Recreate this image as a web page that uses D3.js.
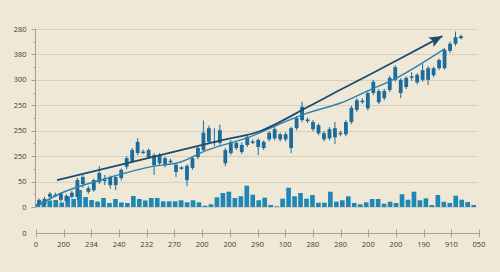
<!DOCTYPE html>
<html>
<head>
<meta charset="utf-8">
<script src="https://cdn.jsdelivr.net/npm/d3@7"></script>
<style>
  html, body { margin: 0; padding: 0; background: #f0e8d6; }
  svg { display: block; font-family: "Open Sans", "DejaVu Sans", sans-serif; }
</style>
</head>
<body>
<svg id="chart"></svg>
<script>
(function (d3) {
  'use strict'
  // data [[[1
  // y axis labels, bottom to top (they are odd but that is what the picture says)
  const yLabels = ['0', '50', '250', '250', '250', '300', '380', '280']
  const xLabels = ['0', '200', '234', '240', '232', '270', '200', '200', '290',
    '100', '280', '280', '200', '200', '190', '910', '050']

  // candles
  const opens = [4, 5, 20, 23, 26, 12, 20, 20, 45, 37, 33, 49, 52, 59, 43, 57, 79, 90, 106, 107,
    112, 102, 86, 96, 89, 83, 76, 81, 77, 98, 112, 128, 127, 126, 112, 106, 116, 122, 122, 127,
    132, 116, 133, 135, 143, 133, 116, 155, 171, 170, 167, 161, 145, 135, 137, 144, 143, 167, 191, 207,
    194, 224, 228, 214, 230, 250, 250, 236, 255, 245, 250, 273, 259, 273, 273, 307, 321, 332]
  const closes = [14, 16, 26, 24, 14, 22, 28, 53, 59, 30, 53, 67, 54, 43, 59, 73, 96, 112, 128, 109,
    98, 82, 102, 82, 91, 69, 78, 53, 96, 116, 146, 155, 129, 151, 86, 128, 126, 108, 138, 129,
    118, 128, 146, 153, 133, 143, 155, 175, 197, 172, 153, 145, 133, 153, 155, 146, 167, 195, 210, 209,
    224, 246, 206, 228, 254, 275, 224, 254, 257, 260, 269, 250, 273, 289, 309, 321, 334, 336]
  const highs = [17, 20, 30, 28, 29, 25, 32, 57, 63, 41, 56, 80, 63, 62, 62, 76, 100, 116, 135, 113,
    115, 106, 106, 99, 95, 86, 80, 84, 99, 119, 170, 160, 155, 162, 116, 132, 129, 127, 142, 133,
    135, 131, 149, 157, 146, 147, 158, 179, 207, 176, 171, 164, 149, 157, 167, 150, 171, 199, 214, 214,
    228, 250, 232, 232, 258, 279, 253, 257, 265, 263, 282, 277, 276, 292, 312, 325, 345, 339]
  const lows = [2, 3, 14, 20, 10, 8, 17, 14, 38, 26, 30, 45, 43, 36, 33, 52, 74, 86, 102, 104,
    95, 63, 82, 78, 86, 59, 73, 41, 73, 94, 108, 124, 120, 122, 80, 102, 112, 104, 118, 124,
    102, 112, 129, 131, 129, 129, 106, 151, 167, 165, 149, 141, 129, 131, 124, 139, 139, 163, 187, 203,
    190, 220, 202, 210, 226, 246, 214, 232, 248, 241, 246, 240, 255, 269, 270, 303, 317, 330]

  // volume bars
  const volumes = [30, 60, 65, 70, 45, 105, 80, 170, 100, 70, 55, 90, 40, 80, 45, 40, 110, 80, 65, 90, 90,
    57, 57, 57, 67, 47, 67, 47, 13, 27, 97, 140, 153, 90, 107, 213, 123, 67, 93, 20, 7, 83, 193, 107, 140, 83, 120, 43, 43, 153, 53,
    67, 107, 40, 27, 47, 80, 80, 33, 53, 40, 127, 73, 153, 67, 87, 20, 120, 53, 40, 113, 73, 50, 20]

  // trend lines: [candle index, value]
  const trendUpper = [[3.3, 53], [22.1, 102], [33.6, 132], [40.3, 149], [49.1, 197], [54.9, 230], [60.3, 260], [73.6, 336]]
  const trendLower = [[0, 4], [4.4, 29], [11.2, 53], [20.3, 79], [25.7, 88], [30.7, 112], [38.5, 138],
    [43.9, 163], [49.1, 185], [54.9, 204], [60.3, 230], [65.3, 254], [74, 311]]

  // setup [[[1
  const W = 500
  const H = 272
  const COLORS = {
    bg: '#f0e8d6',
    grid: '#d9cfba',
    axis: '#aaa08f',
    text: '#3b3a36',
    candle: '#1b6c9b',
    volume: '#1f87b6',
    upper: '#1c4b6e',
    lower: '#2b82ad'
  }

  const svg = d3.select('#chart').attr('width', W).attr('height', H)
  svg.append('rect').attr('width', W).attr('height', H).attr('fill', COLORS.bg)

  const y = d3.scaleLinear().domain([0, 350]).range([207, 29])
  const xi = d3.scaleLinear().domain([0, opens.length - 1]).range([39, 461])
  const xv = d3.scaleBand().domain(d3.range(volumes.length)).range([35.5, 476]).paddingInner(0.22)
  const yv = d3.scaleLinear().domain([0, 300]).range([207, 177])
  const xAxisScale = d3.scaleLinear().domain([0, xLabels.length - 1]).range([36, 479])

  // grid + y axis [[[1
  const yTicks = d3.range(0, 351, 50)
  svg.append('g')
    .selectAll('line')
    .data(yTicks)
    .enter()
    .append('line')
    .attr('x1', 35).attr('x2', 478)
    .attr('y1', d => Math.round(y(d)) + 0.5).attr('y2', d => Math.round(y(d)) + 0.5)
    .attr('stroke', COLORS.grid)
    .attr('stroke-width', 1)

  const yAxis = svg.append('g').attr('transform', 'translate(35.5,0)')
  yAxis.append('line')
    .attr('y1', y(350)).attr('y2', y(0))
    .attr('stroke', COLORS.axis)
  // major ticks
  yAxis.selectAll('line.major')
    .data(yTicks)
    .enter()
    .append('line')
    .attr('class', 'major')
    .attr('x1', -4).attr('x2', 0)
    .attr('y1', d => Math.round(y(d)) + 0.5).attr('y2', d => Math.round(y(d)) + 0.5)
    .attr('stroke', COLORS.axis)
  // minor ticks
  yAxis.selectAll('line.minor')
    .data(d3.range(25, 350, 50))
    .enter()
    .append('line')
    .attr('class', 'minor')
    .attr('x1', -2).attr('x2', 0)
    .attr('y1', d => Math.round(y(d)) + 0.5).attr('y2', d => Math.round(y(d)) + 0.5)
    .attr('stroke', COLORS.axis)
  yAxis.selectAll('text')
    .data(yTicks)
    .enter()
    .append('text')
    .attr('x', -9)
    .attr('y', d => y(d))
    .attr('dy', '0.35em')
    .attr('text-anchor', 'end')
    .attr('font-size', 7.5)
    .attr('fill', COLORS.text)
    .text((d, i) => yLabels[i])

  // volume [[[1
  svg.append('g')
    .selectAll('rect')
    .data(volumes)
    .enter()
    .append('rect')
    .attr('x', (d, i) => xv(i))
    .attr('width', xv.bandwidth())
    .attr('y', d => yv(d))
    .attr('height', d => yv(0) - yv(d))
    .attr('fill', COLORS.volume)

  // candles [[[1
  const candles = svg.append('g')
    .selectAll('g')
    .data(opens.map((o, i) => ({ o: o, c: closes[i], h: highs[i], l: lows[i], i: i })))
    .enter()
    .append('g')

  candles.append('line')
    .attr('x1', d => xi(d.i)).attr('x2', d => xi(d.i))
    .attr('y1', d => y(d.h)).attr('y2', d => y(d.l))
    .attr('stroke', COLORS.candle)
    .attr('stroke-width', 1)

  candles.append('rect')
    .attr('x', d => xi(d.i) - 1.9)
    .attr('width', 3.8)
    .attr('y', d => y(Math.max(d.o, d.c)))
    .attr('height', d => Math.max(1.5, Math.abs(y(d.o) - y(d.c))))
    .attr('fill', COLORS.candle)

  // trend lines [[[1
  const line = d3.line()
    .x(d => xi(d[0]))
    .y(d => y(d[1]))
    .curve(d3.curveCatmullRom)

  svg.append('defs').append('marker')
    .attr('id', 'arrow')
    .attr('markerUnits', 'userSpaceOnUse')
    .attr('viewBox', '0 0 12 10')
    .attr('refX', 12).attr('refY', 5)
    .attr('markerWidth', 13).attr('markerHeight', 11)
    .attr('orient', 'auto')
    .append('path')
    .attr('d', 'M0,0L12,5L0,10L2.5,5Z')
    .attr('fill', COLORS.upper)

  svg.append('path')
    .datum(trendLower)
    .attr('d', line)
    .attr('fill', 'none')
    .attr('stroke', COLORS.lower)
    .attr('stroke-width', 1.4)

  svg.append('path')
    .datum(trendUpper)
    .attr('d', line)
    .attr('fill', 'none')
    .attr('stroke', COLORS.upper)
    .attr('stroke-width', 1.8)
    .attr('marker-end', 'url(#arrow)')

  // x axis [[[1
  const xAxis = svg.append('g').attr('transform', 'translate(0,233.5)')
  xAxis.append('line')
    .attr('x1', 36).attr('x2', 479)
    .attr('stroke', COLORS.axis)
  xAxis.selectAll('line.tick')
    .data(xLabels)
    .enter()
    .append('line')
    .attr('class', 'tick')
    .attr('x1', (d, i) => Math.round(xAxisScale(i)) + 0.5)
    .attr('x2', (d, i) => Math.round(xAxisScale(i)) + 0.5)
    .attr('y1', -4).attr('y2', 4)
    .attr('stroke', COLORS.axis)
  xAxis.selectAll('text')
    .data(xLabels)
    .enter()
    .append('text')
    .attr('x', (d, i) => xAxisScale(i))
    .attr('y', 13)
    .attr('text-anchor', 'middle')
    .attr('font-size', 7.5)
    .attr('fill', COLORS.text)
    .text(d => d)

  // lone "0" next to the lower axis
  svg.append('text')
    .attr('x', 26.5)
    .attr('y', 233.5)
    .attr('dy', '0.35em')
    .attr('text-anchor', 'end')
    .attr('font-size', 7.5)
    .attr('fill', COLORS.text)
    .text('0')

}(d3))
</script>
</body>
</html>
